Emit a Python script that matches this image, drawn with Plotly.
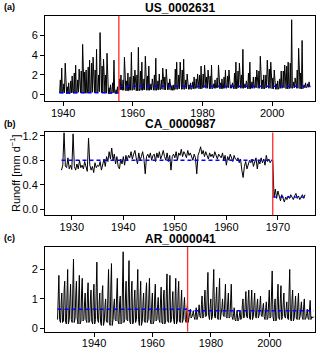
import plotly.graph_objects as go

# =================================================================================================
#   DATA
# =================================================================================================

# (a) US_0002631 : yearly main spike, secondary spike and base flow
YEARS_A = list(range(1939, 2011))
MAIN_A = [
    2.7, 3.2, 1.2, 1.9, 3.0, 2.6, 5.1, 2.5, 3.5, 3.8,
    4.6, 6.3, 3.6, 4.2, 1.0, 3.5, 0.8, 2.0, 3.8, 2.2,
    4.3, 2.5, 4.8, 3.3, 3.9, 2.9, 1.6, 3.7, 2.1, 2.7,
    2.6, 1.6, 1.0, 3.3, 3.3, 3.6, 2.1, 1.2, 1.8, 2.1,
    2.9, 3.0, 2.5, 3.0, 1.5, 3.0, 1.6, 2.5, 2.5, 1.2,
    3.3, 3.2, 4.6, 1.4, 3.3, 1.8, 2.5, 3.9, 2.0, 3.5,
    3.3, 2.5, 1.4, 2.4, 3.0, 3.3, 7.6, 1.7, 4.7, 5.5,
    1.2, 1.3,
]
SECOND_A = [
    1.5, 1.1, 0.8, 1.4, 2.2, 1.5, 2.4, 2.3, 2.8, 3.2,
    2.5, 2.0, 2.9, 2.0, 0.7, 1.2, 0.5, 1.6, 1.5, 1.4,
    1.8, 1.9, 2.0, 2.4, 1.6, 1.9, 1.1, 2.0, 1.4, 1.5,
    1.8, 1.2, 0.9, 2.6, 2.0, 2.5, 1.5, 1.0, 1.3, 1.6,
    2.0, 2.1, 1.8, 1.9, 1.1, 1.7, 1.2, 1.8, 1.9, 1.0,
    2.2, 2.4, 2.0, 1.1, 2.2, 1.3, 1.8, 2.4, 1.5, 2.0,
    2.6, 1.7, 1.1, 1.6, 2.4, 2.9, 3.2, 1.3, 2.5, 2.2,
    1.0, 1.1,
]
BASE_A = [
    0.15, 0.2, 0.1, 0.2, 0.15, 0.25, 0.2, 0.15, 0.2, 0.25,
    0.2, 0.3, 0.2, 0.15, 0.1, 0.2, 0.1, 0.5, 0.45, 0.4,
    0.45, 0.5, 0.4, 0.45, 0.5, 0.45, 0.5, 0.45, 0.5, 0.55,
    0.5, 0.5, 0.45, 0.55, 0.6, 0.55, 0.6, 0.55, 0.6, 0.65,
    0.6, 0.7, 0.65, 0.6, 0.65, 0.7, 0.6, 0.65, 0.7, 0.65,
    0.6, 0.7, 0.65, 0.7, 0.6, 0.65, 0.7, 0.65, 0.6, 0.7,
    0.65, 0.6, 0.55, 0.65, 0.7, 0.6, 0.65, 0.7, 0.65, 0.6,
    0.7, 0.75,
]
BREAK_A = 1956.0
MEANS_A = [0.2, 0.85]
SPAN_A = [1939.0, 1956.0, 2011.0]

# (b) CA_0000987 : quarterly values
START_B = 1928.0
VALUES_B = [
    0.64, 0.72, 1.25, 0.70, 0.68, 0.84, 0.66, 0.72, 0.65, 1.23,
    0.70, 0.64, 0.74, 0.66, 0.80, 0.68, 0.72, 0.66, 0.78, 0.70,
    0.62, 1.16, 0.72, 0.64, 0.70, 0.60, 0.76, 0.68, 0.72, 0.70,
    0.78, 0.64, 0.74, 0.82, 0.70, 0.86, 0.78, 0.94, 0.82, 1.00,
    0.80, 0.90, 0.74, 0.86, 0.70, 0.66, 0.82, 0.74, 0.86, 0.72,
    0.88, 0.80, 0.88, 0.84, 0.94, 0.82, 0.90, 0.96, 0.84, 0.74,
    0.92, 0.80, 0.86, 0.94, 0.82, 0.58, 0.86, 0.90, 0.84, 0.92,
    0.80, 0.88, 0.90, 0.78, 0.92, 0.84, 0.94, 0.82, 0.88, 0.96,
    0.86, 0.80, 0.92, 0.78, 0.88, 0.64, 0.86, 0.90, 0.84, 0.94,
    0.80, 0.92, 0.88, 0.98, 0.86, 0.94, 0.90, 0.84, 0.96, 0.88,
    0.92, 0.86, 0.80, 0.90, 0.84, 0.58, 0.88, 0.94, 1.02, 0.90,
    0.96, 0.86, 0.94, 0.88, 0.82, 0.92, 0.86, 0.90, 0.84, 0.94,
    0.88, 0.82, 0.90, 0.86, 0.84, 0.92, 0.80, 0.88, 0.72, 0.86,
    0.80, 0.90, 0.84, 0.78, 0.88, 0.82, 0.80, 0.84, 0.76, 0.82,
    0.64, 0.52, 0.70, 0.78, 0.66, 0.72, 0.80, 0.76, 0.82, 0.70,
    0.78, 0.84, 0.66, 0.80, 0.74, 0.84, 0.76, 0.82, 0.72, 0.88,
    0.78, 0.82, 0.76, 0.80, 0.80,
    0.20, 0.33, 0.18, 0.30, 0.22, 0.14, 0.24, 0.18, 0.12, 0.20,
    0.16, 0.22, 0.18, 0.24, 0.20, 0.16, 0.22, 0.26, 0.18, 0.22,
    0.16, 0.20, 0.24, 0.18, 0.24,
]
BREAK_B = 1969.0
MEANS_B = [0.8, 0.2]
SPAN_B = [1928.0, 1969.0, 1975.3]

# (c) AR_0000041 : yearly trough, main peak and secondary peak
YEARS_C = list(range(1928, 2016))
PEAK_C = [
    1.8, 1.2, 1.6, 2.0, 1.5, 2.35, 1.6, 1.8, 1.7, 1.2,
    1.55, 1.3, 1.5, 2.25, 1.2, 1.45, 1.0, 2.0, 2.2, 1.0,
    1.7, 1.1, 2.6, 1.6, 2.3, 1.6, 1.3, 2.0, 1.6, 1.2,
    1.55, 1.7, 1.2, 1.5, 1.05, 1.4, 1.3, 1.85, 1.8, 1.25,
    1.7, 1.6, 1.3, 1.05, 0.85, 0.65, 0.6, 0.7, 0.8, 1.1,
    1.3, 1.9, 1.0, 2.0, 1.4, 1.7, 1.0, 1.5, 1.2, 1.5,
    0.7, 0.6, 0.6, 1.0, 1.25, 1.3, 1.3, 1.2, 1.0, 1.1,
    0.85, 0.9, 1.3, 1.95, 1.0, 1.5, 1.45, 1.2, 0.9, 2.0,
    1.3, 1.1, 1.2, 0.9, 1.0, 0.65, 0.95, 0.4,
]
SECOND_C = [
    1.1, 0.9, 1.3, 1.2, 1.0, 1.5, 1.2, 1.1, 1.3, 0.9,
    1.2, 1.0, 1.1, 1.4, 0.9, 1.2, 0.8, 1.3, 1.5, 0.8,
    1.2, 0.9, 1.6, 1.1, 1.4, 1.2, 1.0, 1.3, 1.1, 0.9,
    1.2, 1.1, 0.9, 1.1, 0.8, 1.0, 1.1, 1.3, 1.2, 0.9,
    1.1, 1.2, 0.9, 0.8, 0.6, 0.5, 0.5, 0.55, 0.6, 0.8,
    0.9, 1.3, 0.8, 1.4, 1.0, 1.2, 0.7, 1.1, 0.9, 1.0,
    0.5, 0.5, 0.45, 0.8, 0.9, 1.0, 0.9, 0.9, 0.8, 0.8,
    0.7, 0.7, 0.9, 1.3, 0.8, 1.1, 1.0, 0.9, 0.7, 1.3,
    1.0, 0.8, 0.9, 0.7, 0.8, 0.5, 0.7, 0.35,
]
TROUGH_C = [
    0.3, 0.2, 0.25, 0.15, 0.3, 0.2, 0.35, 0.15, 0.25, 0.3,
    0.2, 0.25, 0.15, 0.3, 0.2, 0.1, 0.25, 0.2, 0.1, 0.3,
    0.25, 0.15, 0.2, 0.3, 0.25, 0.15, 0.2, 0.3, 0.1, 0.25,
    0.2, 0.3, 0.15, 0.25, 0.3, 0.2, 0.15, 0.25, 0.2, 0.3,
    0.15, 0.25, 0.2, 0.3, 0.2, 0.35, 0.4, 0.3, 0.4, 0.35,
    0.4, 0.45, 0.3, 0.4, 0.35, 0.3, 0.45, 0.4, 0.35, 0.4,
    0.3, 0.25, 0.3, 0.35, 0.4, 0.35, 0.3, 0.4, 0.35, 0.45,
    0.4, 0.3, 0.35, 0.4, 0.25, 0.35, 0.3, 0.4, 0.35, 0.3,
    0.25, 0.35, 0.3, 0.4, 0.3, 0.35, 0.3, 0.4,
]
BREAK_C = 1972.0
MEANS_C = [0.65, 0.6]
SPAN_C = [1927.5, 1972.0, 2015.2]

# =================================================================================================
#   LAYOUT CONSTANTS
# =================================================================================================

W, H = 320, 353
FONT = "Liberation Sans"
X_DOMAIN = [45 / W, 315 / W]

PANELS = [
    # key, title, label, y-domain (px from top), x range, x ticks, y range, y ticks, y labels
    ("", "US_0002631", "(a)", (13, 100), [1934.8, 2012.3], [1940, 1960, 1980, 2000],
     [-0.67, 8.0], [0, 2, 4, 6], ["0", "2", "4", "6"]),
    ("2", "CA_0000987", "(b)", (131.7, 216), [1924.8, 1977.2], [1930, 1940, 1950, 1960, 1970],
     [-0.096, 1.253], [0.0, 0.4, 0.8, 1.2], ["0.0", "0.4", "0.8", "1.2"]),
    ("3", "AR_0000041", "(c)", (248.3, 334.3), [1923.2, 2015.6], [1940, 1960, 1980, 2000],
     [-0.11, 2.76], [0, 1, 2], ["0", "1", "2"]),
]

# =================================================================================================
#   BUILD SERIES
# =================================================================================================

t_a, v_a = [], []
for yr, p1, p2, b in zip(YEARS_A, MAIN_A, SECOND_A, BASE_A):
    t_a += [yr + 0.0, yr + 0.2, yr + 0.4, yr + 0.6, yr + 0.8]
    v_a += [b, p2, b, p1, b]

t_b = [START_B + i * 0.25 for i in range(len(VALUES_B))]
v_b = VALUES_B

t_c, v_c = [], []
for yr, p, s, tr in zip(YEARS_C, PEAK_C, SECOND_C, TROUGH_C):
    t_c += [yr - 0.5, yr - 0.25, yr - 0.05, yr + 0.2]
    v_c += [tr, s, p, tr]

SERIES = [
    (t_a, v_a, BREAK_A, MEANS_A, SPAN_A),
    (t_b, v_b, BREAK_B, MEANS_B, SPAN_B),
    (t_c, v_c, BREAK_C, MEANS_C, SPAN_C),
]

# =================================================================================================
#   FIGURE
# =================================================================================================

fig = go.Figure()
shapes, annotations = [], []
layout = {}

for (key, title, label, (top, bot), xr, xt, yr_, yt, ylab), (tx, vy, brk, means, span) in zip(
    PANELS, SERIES
):
    xa, ya = f"x{key}", f"y{key}"

    fig.add_trace(
        go.Scatter(x=tx, y=vy, mode="lines", line=dict(color="black", width=1),
                   xaxis=xa, yaxis=ya, showlegend=False, hoverinfo="skip")
    )
    # Mean before / after the break point
    for i, m in enumerate(means):
        fig.add_trace(
            go.Scatter(x=[span[i], span[i + 1]], y=[m, m], mode="lines",
                       line=dict(color="blue", width=1.4, dash="4px,3px"),
                       xaxis=xa, yaxis=ya, showlegend=False, hoverinfo="skip")
        )

    shapes.append(dict(type="line", xref=xa, yref=f"{ya} domain", x0=brk, x1=brk, y0=0, y1=1,
                       line=dict(color="#ff2a2a", width=1.3)))

    dom = [1 - bot / H, 1 - top / H]
    axis_common = dict(showline=True, mirror=True, linecolor="black", linewidth=1,
                       ticks="outside", ticklen=4, tickcolor="black", showgrid=False,
                       zeroline=False, tickfont=dict(family=FONT, size=11, color="black"))
    layout[f"xaxis{key}"] = dict(domain=X_DOMAIN, range=xr, tickvals=xt, ticklabelstandoff=-3,
                                 anchor=ya, **axis_common)
    layout[f"yaxis{key}"] = dict(domain=dom, range=yr_, tickvals=yt, ticktext=ylab,
                                 anchor=xa, **axis_common)

    annotations.append(dict(text=f"<b>{title}</b>", x=(45 + 315) / 2 / W, y=dom[1],
                            xref="paper", yref="paper", xanchor="center", yanchor="bottom",
                            borderpad=0, yshift=0, showarrow=False,
                            font=dict(family=FONT, size=12, color="black")))
    annotations.append(dict(text=f"<b>{label}</b>", x=2 / W, y=1 - (top - 9) / H,
                            xref="paper", yref="paper", xanchor="left", yanchor="middle",
                            showarrow=False, font=dict(family=FONT, size=9, color="black")))

annotations.append(dict(text="Runoff [mm d<sup>−1</sup>]", x=15 / W, y=1 - 173 / H,
                        xref="paper", yref="paper", textangle=-90, showarrow=False,
                        xanchor="center", yanchor="middle",
                        font=dict(family=FONT, size=11, color="black")))

fig.update_layout(
    width=W, height=H,
    margin=dict(l=0, r=0, t=0, b=0),
    paper_bgcolor="white", plot_bgcolor="white",
    shapes=shapes, annotations=annotations,
    **layout,
)

# Drop the default page margin so the figure sits at the window corner
fig.write_html("out.html", config={"displayModeBar": False},
               post_script="document.body.style.margin='0';")
